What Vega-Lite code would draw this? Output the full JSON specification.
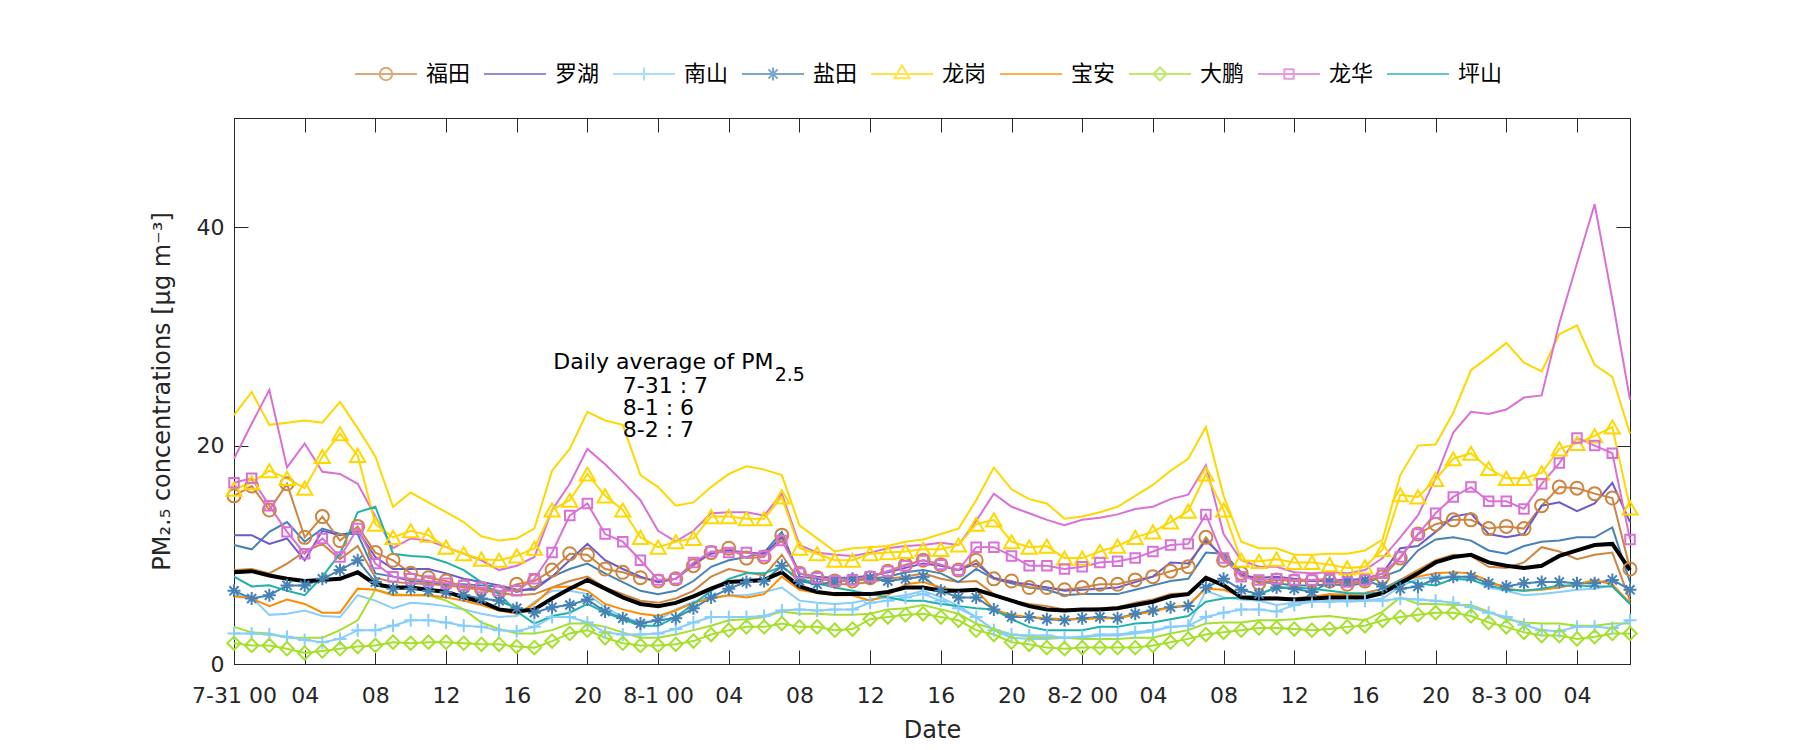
{
"$schema": "https://vega.github.io/schema/vega-lite/v6.json",
"width": 1396, "height": 546,
"autosize": {"type": "none"},
"padding": {"left": 234, "top": 118, "right": 170, "bottom": 86},
"background": "white",
"config": {
  "view": {"stroke": "#262626", "strokeWidth": 1},
  "axis": {"labelFont": "DejaVu Sans", "labelFontSize": 22, "labelColor": "#262626", "titleFont": "DejaVu Sans", "titleFontSize": 24, "titleFontWeight": "normal", "titleColor": "#262626", "domainColor": "#262626", "tickColor": "#262626", "grid": false},
  "legend": {"orient": "none", "legendX": 120, "legendY": -76, "direction": "horizontal", "labelFont": "Noto Sans CJK SC", "labelFontSize": 22, "labelColor": "#000000", "labelOffset": 8, "columnPadding": 9, "symbolSize": 3844, "symbolStrokeWidth": 2, "symbolFillColor": "transparent"}
},
"datasets": {
"pm": [
{"h":0,"福田":15.4,"福田b":8.6,"罗湖":11.8,"南山":2.8,"南山b":6.3,"盐田":6.7,"盐田b":10.9,"龙岗":16.0,"龙岗b":22.8,"宝安":6.2,"大鹏":1.9,"大鹏b":3.4,"龙华":16.6,"龙华b":18.8,"坪山":8.0,"平均":8.4},
{"h":1,"福田":16.3,"福田b":8.7,"罗湖":11.8,"南山":2.8,"南山b":6.1,"盐田":6.0,"盐田b":10.5,"龙岗":16.6,"龙岗b":24.9,"宝安":6.0,"大鹏":1.7,"大鹏b":2.9,"龙华":17.0,"龙华b":22.0,"坪山":7.1,"平均":8.5},
{"h":2,"福田":14.1,"福田b":8.3,"罗湖":11.0,"南山":2.7,"南山b":4.5,"盐田":6.3,"盐田b":12.1,"龙岗":17.7,"龙岗b":21.9,"宝安":5.3,"大鹏":1.7,"大鹏b":2.8,"龙华":14.5,"龙华b":25.1,"坪山":7.2,"平均":8.1},
{"h":3,"福田":16.5,"福田b":9.2,"罗湖":11.5,"南山":2.5,"南山b":4.6,"盐田":7.2,"盐田b":13.0,"龙岗":17.0,"龙岗b":22.1,"宝安":5.9,"大鹏":1.4,"大鹏b":2.4,"龙华":12.1,"龙华b":18.0,"坪山":6.7,"平均":7.8},
{"h":4,"福田":11.6,"福田b":10.3,"罗湖":9.5,"南山":2.2,"南山b":4.9,"盐田":7.2,"盐田b":11.2,"龙岗":16.1,"龙岗b":22.3,"宝安":5.5,"大鹏":1.0,"大鹏b":2.4,"龙华":10.1,"龙华b":20.2,"坪山":6.3,"平均":7.6},
{"h":5,"福田":13.5,"福田b":11.0,"罗湖":12.2,"南山":2.0,"南山b":4.4,"盐田":7.8,"盐田b":12.4,"龙岗":19.0,"龙岗b":22.1,"宝安":4.7,"大鹏":1.2,"大鹏b":2.4,"龙华":11.5,"龙华b":17.6,"坪山":8.0,"平均":7.7},
{"h":6,"福田":11.3,"福田b":9.6,"罗湖":11.8,"南山":2.3,"南山b":4.3,"盐田":8.6,"盐田b":11.9,"龙岗":21.1,"龙岗b":24.0,"宝安":4.7,"大鹏":1.4,"大鹏b":3.1,"龙华":9.8,"龙华b":17.4,"坪山":10.1,"平均":7.8},
{"h":7,"福田":12.6,"福田b":10.8,"罗湖":12.2,"南山":3.1,"南山b":6.3,"盐田":9.5,"盐田b":11.9,"龙岗":19.1,"龙岗b":21.6,"宝安":6.9,"大鹏":1.6,"大鹏b":4.0,"龙华":12.4,"龙华b":16.5,"坪山":13.9,"平均":8.4},
{"h":8,"福田":10.2,"福田b":7.9,"罗湖":9.8,"南山":3.1,"南山b":5.8,"盐田":7.5,"盐田b":8.3,"龙岗":12.8,"龙岗b":19.0,"宝安":6.8,"大鹏":1.7,"大鹏b":6.8,"龙华":9.2,"龙华b":13.5,"坪山":14.4,"平均":7.3},
{"h":9,"福田":9.5,"福田b":7.5,"罗湖":8.7,"南山":3.5,"南山b":5.1,"盐田":6.9,"盐田b":8.0,"龙岗":11.6,"龙岗b":14.4,"宝安":6.3,"大鹏":2.0,"大鹏b":6.4,"龙华":8.0,"龙华b":10.6,"坪山":10.1,"平均":7.0},
{"h":10,"福田":8.3,"福田b":7.4,"罗湖":8.7,"南山":4.0,"南山b":5.6,"盐田":6.9,"盐田b":7.6,"龙岗":12.2,"龙岗b":15.7,"宝安":6.3,"大鹏":1.9,"大鹏b":6.3,"龙华":7.8,"龙华b":11.5,"坪山":9.9,"平均":7.0},
{"h":11,"福田":7.9,"福田b":7.3,"罗湖":8.7,"南山":4.0,"南山b":5.5,"盐田":6.7,"盐田b":7.5,"龙岗":11.8,"龙岗b":14.8,"宝安":6.3,"大鹏":2.0,"大鹏b":6.3,"龙华":7.6,"龙华b":11.3,"坪山":9.8,"平均":6.8},
{"h":12,"福田":7.6,"福田b":7.2,"罗湖":8.3,"南山":3.8,"南山b":5.3,"盐田":6.6,"盐田b":7.3,"龙岗":10.7,"龙岗b":13.9,"宝安":6.1,"大鹏":2.0,"大鹏b":5.8,"龙华":7.4,"龙华b":10.7,"坪山":9.3,"平均":6.6},
{"h":13,"福田":7.1,"福田b":7.0,"罗湖":7.8,"南山":3.5,"南山b":5.0,"盐田":6.3,"盐田b":7.3,"龙岗":10.1,"龙岗b":13.0,"宝安":5.8,"大鹏":1.9,"大鹏b":5.0,"龙华":7.2,"龙华b":10.1,"坪山":8.6,"平均":6.1},
{"h":14,"福田":6.9,"福田b":6.8,"罗湖":7.5,"南山":3.4,"南山b":4.6,"盐田":6.0,"盐田b":7.2,"龙岗":9.6,"龙岗b":11.7,"宝安":5.4,"大鹏":1.8,"大鹏b":3.8,"龙华":7.0,"龙华b":9.5,"坪山":7.5,"平均":5.7},
{"h":15,"福田":6.6,"福田b":6.5,"罗湖":7.2,"南山":3.1,"南山b":4.3,"盐田":5.8,"盐田b":7.1,"龙岗":9.5,"龙岗b":11.3,"宝安":4.9,"大鹏":1.8,"大鹏b":3.2,"龙华":6.7,"龙华b":8.6,"坪山":6.4,"平均":5.0},
{"h":16,"福田":7.3,"福田b":6.3,"罗湖":6.8,"南山":3.0,"南山b":4.4,"盐田":5.1,"盐田b":6.6,"龙岗":9.9,"龙岗b":11.5,"宝安":4.6,"大鹏":1.6,"大鹏b":2.8,"龙华":6.7,"龙华b":9.0,"坪山":4.8,"平均":4.8},
{"h":17,"福田":7.6,"福田b":6.4,"罗湖":6.8,"南山":3.4,"南山b":5.7,"盐田":4.7,"盐田b":7.0,"龙岗":10.6,"龙岗b":12.4,"宝安":5.5,"大鹏":1.5,"大鹏b":2.8,"龙华":7.8,"龙华b":9.8,"坪山":3.7,"平均":5.0},
{"h":18,"福田":8.6,"福田b":7.0,"罗湖":8.0,"南山":4.3,"南山b":6.7,"盐田":5.2,"盐田b":8.0,"龙岗":14.1,"龙岗b":17.7,"宝安":7.0,"大鹏":2.1,"大鹏b":3.1,"龙华":10.2,"龙华b":14.1,"坪山":4.4,"平均":6.0},
{"h":19,"福田":10.1,"福田b":7.6,"罗湖":9.5,"南山":4.3,"南山b":6.7,"盐田":5.4,"盐田b":8.7,"龙岗":15.0,"龙岗b":19.7,"宝安":7.1,"大鹏":2.8,"大鹏b":3.7,"龙华":13.6,"龙华b":16.5,"坪山":4.7,"平均":6.9},
{"h":20,"福田":10.0,"福田b":8.0,"罗湖":11.0,"南山":3.8,"南山b":6.4,"盐田":5.9,"盐田b":9.2,"龙岗":17.4,"龙岗b":23.1,"宝安":6.7,"大鹏":3.1,"大鹏b":3.7,"龙华":14.7,"龙华b":19.7,"坪山":5.5,"平均":7.7},
{"h":21,"福田":8.7,"福田b":7.0,"罗湖":9.5,"南山":2.9,"南山b":5.2,"盐田":4.8,"盐田b":8.3,"龙岗":15.4,"龙岗b":22.3,"宝安":5.5,"大鹏":2.4,"大鹏b":3.4,"龙华":11.9,"龙华b":18.3,"坪山":4.7,"平均":6.9},
{"h":22,"福田":8.4,"福田b":6.4,"罗湖":8.7,"南山":2.7,"南山b":4.3,"盐田":4.2,"盐田b":7.5,"龙岗":14.1,"龙岗b":21.9,"宝安":5.0,"大鹏":1.9,"大鹏b":2.9,"龙华":11.2,"龙华b":16.7,"坪山":4.1,"平均":6.1},
{"h":23,"福田":7.9,"福田b":5.8,"罗湖":8.0,"南山":2.7,"南山b":3.8,"盐田":3.7,"盐田b":6.7,"龙岗":11.6,"龙岗b":17.3,"宝安":4.6,"大鹏":1.7,"大鹏b":2.4,"龙华":9.5,"龙华b":15.0,"坪山":3.5,"平均":5.5},
{"h":24,"福田":7.6,"福田b":5.6,"罗湖":7.5,"南山":2.8,"南山b":4.0,"盐田":4.0,"盐田b":6.4,"龙岗":10.7,"龙岗b":16.2,"宝安":4.4,"大鹏":1.7,"大鹏b":2.4,"龙华":7.7,"龙华b":12.2,"坪山":3.5,"平均":5.3},
{"h":25,"福田":7.8,"福田b":6.0,"罗湖":7.8,"南山":3.2,"南山b":5.0,"盐田":4.2,"盐田b":6.7,"龙岗":11.2,"龙岗b":14.5,"宝安":4.9,"大鹏":1.8,"大鹏b":2.7,"龙华":7.8,"龙华b":11.2,"坪山":4.3,"平均":5.6},
{"h":26,"福田":9.0,"福田b":6.7,"罗湖":9.2,"南山":3.8,"南山b":5.7,"盐田":5.1,"盐田b":7.6,"龙岗":11.5,"龙岗b":14.8,"宝安":5.6,"大鹏":2.1,"大鹏b":3.1,"龙华":9.3,"龙华b":12.2,"坪山":5.5,"平均":6.2},
{"h":27,"福田":10.2,"福田b":8.0,"罗湖":10.1,"南山":4.3,"南山b":6.1,"盐田":6.1,"盐田b":8.9,"龙岗":13.5,"龙岗b":16.2,"宝安":6.0,"大鹏":2.7,"大鹏b":3.5,"龙华":10.3,"龙华b":13.8,"坪山":6.7,"平均":6.9},
{"h":28,"福田":10.6,"福田b":8.7,"罗湖":10.4,"南山":4.3,"南山b":6.3,"盐田":6.9,"盐田b":9.5,"龙岗":13.5,"龙岗b":17.4,"宝安":6.3,"大鹏":3.1,"大鹏b":4.0,"龙华":10.2,"龙华b":13.9,"坪山":7.8,"平均":7.5},
{"h":29,"福田":9.7,"福田b":8.4,"罗湖":10.2,"南山":4.3,"南山b":6.3,"盐田":7.5,"盐田b":9.8,"龙岗":13.3,"龙岗b":18.1,"宝安":6.1,"大鹏":3.4,"大鹏b":4.1,"龙华":10.2,"龙华b":13.9,"坪山":8.3,"平均":7.6},
{"h":30,"福田":9.8,"福田b":8.1,"罗湖":10.1,"南山":4.4,"南山b":6.6,"盐田":7.6,"盐田b":10.2,"龙岗":13.3,"龙岗b":17.8,"宝安":6.4,"大鹏":3.4,"大鹏b":4.3,"龙华":9.9,"龙华b":13.6,"坪山":8.3,"平均":7.7},
{"h":31,"福田":11.8,"福田b":10.0,"罗湖":11.6,"南山":4.9,"南山b":7.0,"盐田":9.0,"盐田b":12.1,"龙岗":15.3,"龙岗b":17.3,"宝安":8.0,"大鹏":3.7,"大鹏b":4.8,"龙华":11.3,"龙华b":15.6,"坪山":8.9,"平均":8.4},
{"h":32,"福田":8.3,"福田b":7.6,"罗湖":8.3,"南山":5.0,"南山b":5.8,"盐田":7.6,"盐田b":8.0,"龙岗":10.6,"龙岗b":12.7,"宝安":6.8,"大鹏":3.4,"大鹏b":4.6,"龙华":8.3,"龙华b":10.9,"坪山":7.8,"平均":7.1},
{"h":33,"福田":7.9,"福田b":7.4,"罗湖":8.0,"南山":4.9,"南山b":5.6,"盐田":7.3,"盐田b":7.8,"龙岗":10.1,"龙岗b":11.5,"宝安":6.5,"大鹏":3.4,"大鹏b":4.6,"龙华":7.9,"龙华b":10.2,"坪山":7.4,"平均":6.6},
{"h":34,"福田":7.6,"福田b":7.3,"罗湖":7.9,"南山":5.0,"南山b":5.5,"盐田":7.5,"盐田b":7.6,"龙岗":9.5,"龙岗b":10.3,"宝安":6.3,"大鹏":3.1,"大鹏b":4.5,"龙华":7.6,"龙华b":10.0,"坪山":7.0,"平均":6.4},
{"h":35,"福田":7.6,"福田b":7.3,"罗湖":7.9,"南山":5.0,"南山b":5.6,"盐田":7.8,"盐田b":7.6,"龙岗":9.5,"龙岗b":10.6,"宝安":6.3,"大鹏":3.2,"大鹏b":4.5,"龙华":7.7,"龙华b":9.9,"坪山":6.7,"平均":6.4},
{"h":36,"福田":7.9,"福田b":7.5,"罗湖":8.1,"南山":5.6,"南山b":5.9,"盐田":7.9,"盐田b":7.8,"龙岗":10.1,"龙岗b":10.7,"宝安":5.8,"大鹏":4.1,"大鹏b":4.6,"龙华":8.0,"龙华b":10.2,"坪山":6.4,"平均":6.4},
{"h":37,"福田":8.5,"福田b":7.8,"罗湖":8.4,"南山":5.8,"南山b":6.1,"盐田":7.6,"盐田b":8.0,"龙岗":10.2,"龙岗b":10.8,"宝安":6.3,"大鹏":4.3,"大鹏b":5.0,"龙华":8.5,"龙华b":10.6,"坪山":6.1,"平均":6.6},
{"h":38,"福田":9.1,"福田b":8.0,"罗湖":8.8,"南山":6.1,"南山b":6.3,"盐田":7.8,"盐田b":8.4,"龙岗":10.3,"龙岗b":11.2,"宝安":7.3,"大鹏":4.5,"大鹏b":5.1,"龙华":9.0,"龙华b":10.8,"坪山":5.8,"平均":7.0},
{"h":39,"福田":9.5,"福田b":8.3,"罗湖":9.2,"南山":6.4,"南山b":6.7,"盐田":8.0,"盐田b":8.6,"龙岗":10.5,"龙岗b":11.4,"宝安":7.5,"大鹏":4.6,"大鹏b":5.4,"龙华":9.5,"龙华b":10.9,"坪山":5.8,"平均":7.0},
{"h":40,"福田":9.1,"福田b":7.8,"罗湖":9.0,"南山":5.8,"南山b":6.1,"盐田":6.7,"盐田b":8.3,"龙岗":10.5,"龙岗b":11.9,"宝安":7.0,"大鹏":4.3,"大鹏b":5.0,"龙华":9.1,"龙华b":11.1,"坪山":5.5,"平均":6.7},
{"h":41,"福田":8.6,"福田b":7.5,"罗湖":8.6,"南山":5.1,"南山b":5.3,"盐田":6.1,"盐田b":7.5,"龙岗":10.9,"龙岗b":12.4,"宝安":6.7,"大鹏":4.0,"大鹏b":4.6,"龙华":8.6,"龙华b":10.9,"坪山":5.3,"平均":6.7},
{"h":42,"福田":9.5,"福田b":7.6,"罗湖":9.2,"南山":4.3,"南山b":4.3,"盐田":6.1,"盐田b":8.7,"龙岗":12.8,"龙岗b":15.0,"宝安":6.8,"大鹏":3.1,"大鹏b":3.7,"龙华":10.7,"龙华b":13.1,"坪山":5.1,"平均":6.8},
{"h":43,"福田":7.8,"福田b":6.4,"罗湖":7.9,"南山":3.1,"南山b":3.1,"盐田":5.0,"盐田b":7.8,"龙岗":13.2,"龙岗b":18.0,"宝安":5.0,"大鹏":2.7,"大鹏b":3.2,"龙华":10.7,"龙华b":15.6,"坪山":5.0,"平均":6.3},
{"h":44,"福田":7.6,"福田b":5.8,"罗湖":7.5,"南山":2.7,"南山b":2.4,"盐田":4.3,"盐田b":7.4,"龙岗":11.2,"龙岗b":16.0,"宝安":4.5,"大鹏":2.0,"大鹏b":2.7,"龙华":9.9,"龙华b":14.4,"坪山":4.1,"平均":5.8},
{"h":45,"福田":7.0,"福田b":5.5,"罗湖":7.3,"南山":2.6,"南山b":2.3,"盐田":4.3,"盐田b":7.0,"龙岗":10.7,"龙岗b":15.1,"宝安":4.3,"大鹏":1.8,"大鹏b":2.5,"龙华":9.0,"龙华b":13.8,"坪山":3.4,"平均":5.3},
{"h":46,"福田":7.0,"福田b":5.3,"罗湖":7.0,"南山":2.6,"南山b":2.3,"盐田":4.1,"盐田b":6.8,"龙岗":10.8,"龙岗b":14.7,"宝安":4.2,"大鹏":1.5,"大鹏b":2.4,"龙华":9.0,"龙华b":13.2,"坪山":3.1,"平均":5.0},
{"h":47,"福田":6.8,"福田b":5.0,"罗湖":6.7,"南山":2.4,"南山b":2.4,"盐田":4.0,"盐田b":6.3,"龙岗":9.7,"龙岗b":13.3,"宝安":4.1,"大鹏":1.4,"大鹏b":2.4,"龙华":8.7,"龙华b":12.7,"坪山":3.1,"平均":4.9},
{"h":48,"福田":7.0,"福田b":5.0,"罗湖":6.8,"南山":2.5,"南山b":2.4,"盐田":4.2,"盐田b":6.4,"龙岗":9.7,"龙岗b":13.5,"宝安":4.1,"大鹏":1.5,"大鹏b":2.3,"龙华":8.9,"龙华b":13.2,"坪山":3.1,"平均":5.0},
{"h":49,"福田":7.3,"福田b":5.1,"罗湖":6.9,"南山":2.7,"南山b":2.6,"盐田":4.3,"盐田b":6.4,"龙岗":10.3,"龙岗b":13.9,"宝安":4.2,"大鹏":1.5,"大鹏b":2.3,"龙华":9.3,"龙华b":13.4,"坪山":3.4,"平均":5.0},
{"h":50,"福田":7.3,"福田b":5.2,"罗湖":7.0,"南山":2.7,"南山b":2.6,"盐田":4.2,"盐田b":6.4,"龙岗":10.8,"龙岗b":14.4,"宝安":4.2,"大鹏":1.5,"大鹏b":2.3,"龙华":9.4,"龙华b":13.7,"坪山":3.4,"平均":5.1},
{"h":51,"福田":7.7,"福田b":5.6,"罗湖":7.5,"南山":2.9,"南山b":2.8,"盐田":4.6,"盐田b":6.8,"龙岗":11.6,"龙岗b":15.4,"宝安":4.5,"大鹏":1.5,"大鹏b":2.4,"龙华":9.7,"龙华b":14.2,"坪山":3.7,"平均":5.4},
{"h":52,"福田":8.0,"福田b":5.9,"罗湖":8.0,"南山":3.1,"南山b":3.0,"盐田":4.9,"盐田b":7.2,"龙岗":12.1,"龙岗b":16.4,"宝安":4.8,"大鹏":1.7,"大鹏b":2.4,"龙华":10.3,"龙华b":14.4,"坪山":3.8,"平均":5.7},
{"h":53,"福田":8.5,"福田b":6.4,"罗湖":9.3,"南山":3.4,"南山b":3.4,"盐田":5.2,"盐田b":7.6,"龙岗":13.0,"龙岗b":17.7,"宝安":5.2,"大鹏":2.0,"大鹏b":2.8,"龙华":10.9,"龙华b":15.1,"坪山":4.1,"平均":6.2},
{"h":54,"福田":8.9,"福田b":6.5,"罗湖":9.2,"南山":3.5,"南山b":3.5,"盐田":5.3,"盐田b":7.8,"龙岗":14.0,"龙岗b":18.8,"宝安":5.4,"大鹏":2.3,"大鹏b":3.1,"龙华":11.0,"龙华b":15.5,"坪山":4.4,"平均":6.4},
{"h":55,"福田":11.6,"福田b":8.0,"罗湖":11.3,"南山":4.3,"南山b":6.7,"盐田":7.0,"盐田b":10.2,"龙岗":17.4,"龙岗b":21.7,"宝安":6.9,"大鹏":2.7,"大鹏b":3.7,"龙华":13.7,"龙华b":18.2,"坪山":5.7,"平均":7.9},
{"h":56,"福田":9.5,"福田b":7.2,"罗湖":9.8,"南山":4.7,"南山b":6.1,"盐田":7.8,"盐田b":10.1,"龙岗":14.1,"龙岗b":15.4,"宝安":6.8,"大鹏":2.9,"大鹏b":3.8,"龙华":9.7,"龙华b":11.9,"坪山":6.0,"平均":7.2},
{"h":57,"福田":8.3,"福田b":6.2,"罗湖":8.1,"南山":5.0,"南山b":5.9,"盐田":6.8,"盐田b":8.4,"龙岗":9.5,"龙岗b":11.2,"宝安":6.2,"大鹏":3.1,"大鹏b":3.8,"龙华":8.0,"龙华b":9.5,"坪山":6.1,"平均":6.1},
{"h":58,"福田":7.4,"福田b":6.1,"罗湖":7.9,"南山":5.0,"南山b":5.8,"盐田":6.4,"盐田b":7.5,"龙岗":9.4,"龙岗b":10.6,"宝安":6.0,"大鹏":3.3,"大鹏b":4.0,"龙华":7.7,"龙华b":8.9,"坪山":6.4,"平均":6.0},
{"h":59,"福田":7.7,"福田b":6.1,"罗湖":8.0,"南山":4.8,"南山b":5.4,"盐田":7.0,"盐田b":7.4,"龙岗":9.6,"龙岗b":10.6,"宝安":6.0,"大鹏":3.3,"大鹏b":4.0,"龙华":7.8,"龙华b":8.9,"坪山":7.0,"平均":6.0},
{"h":60,"福田":7.6,"福田b":6.0,"罗湖":7.8,"南山":5.4,"南山b":5.6,"盐田":6.9,"盐田b":7.2,"龙岗":9.3,"龙岗b":10.0,"宝安":5.9,"大鹏":3.2,"大鹏b":4.1,"龙华":7.7,"龙华b":8.4,"坪山":7.0,"平均":5.9},
{"h":61,"福田":7.6,"福田b":6.2,"罗湖":7.6,"南山":5.7,"南山b":5.8,"盐田":6.6,"盐田b":7.2,"龙岗":9.3,"龙岗b":10.0,"宝安":6.1,"大鹏":3.1,"大鹏b":4.3,"龙华":7.7,"龙华b":8.3,"坪山":6.9,"平均":6.0},
{"h":62,"福田":7.6,"福田b":6.3,"罗湖":7.7,"南山":5.7,"南山b":5.8,"盐田":7.5,"盐田b":7.3,"龙岗":9.1,"龙岗b":10.1,"宝安":6.4,"大鹏":3.2,"大鹏b":4.4,"龙华":7.8,"龙华b":8.4,"坪山":6.7,"平均":6.1},
{"h":63,"福田":7.3,"福田b":6.4,"罗湖":7.7,"南山":5.8,"南山b":5.7,"盐田":7.7,"盐田b":7.2,"龙岗":8.8,"龙岗b":10.1,"宝安":6.3,"大鹏":3.4,"大鹏b":4.2,"龙华":7.5,"龙华b":8.3,"坪山":6.5,"平均":6.1},
{"h":64,"福田":7.6,"福田b":6.5,"罗湖":7.8,"南山":5.8,"南山b":5.8,"盐田":7.7,"盐田b":7.4,"龙岗":8.9,"龙岗b":10.4,"宝安":6.2,"大鹏":3.5,"大鹏b":4.0,"龙华":7.7,"龙华b":8.6,"坪山":6.4,"平均":6.1},
{"h":65,"福田":8.0,"福田b":6.9,"罗湖":8.3,"南山":5.8,"南山b":6.0,"盐田":7.1,"盐田b":8.0,"龙岗":10.5,"龙岗b":11.4,"宝安":6.5,"大鹏":4.0,"大鹏b":4.8,"龙华":8.3,"龙华b":9.7,"坪山":6.6,"平均":6.5},
{"h":66,"福田":9.7,"福田b":7.7,"罗湖":10.6,"南山":6.0,"南山b":7.1,"盐田":6.9,"盐田b":8.6,"龙岗":15.5,"龙岗b":17.3,"宝安":7.5,"大鹏":4.3,"大鹏b":6.1,"龙华":9.8,"龙华b":11.6,"坪山":7.7,"平均":7.4},
{"h":67,"福田":11.9,"福田b":8.6,"罗湖":10.8,"南山":5.9,"南山b":7.8,"盐田":7.1,"盐田b":10.4,"龙岗":15.3,"龙岗b":20.0,"宝安":8.0,"大鹏":4.5,"大鹏b":5.5,"龙华":11.9,"龙华b":13.6,"坪山":7.4,"平均":8.3},
{"h":68,"福田":12.8,"福田b":9.5,"罗湖":12.1,"南山":5.8,"南山b":8.0,"盐田":7.8,"盐田b":11.4,"龙岗":16.9,"龙岗b":20.1,"宝安":8.3,"大鹏":4.7,"大鹏b":5.5,"龙华":13.8,"龙华b":17.0,"坪山":7.2,"平均":9.3},
{"h":69,"福田":13.2,"福田b":10.0,"罗湖":13.5,"南山":5.6,"南山b":8.0,"盐田":8.0,"盐田b":11.6,"龙岗":18.8,"龙岗b":23.0,"宝安":8.4,"大鹏":4.7,"大鹏b":5.4,"龙华":15.3,"龙华b":21.2,"坪山":7.8,"平均":9.8},
{"h":70,"福田":13.2,"福田b":9.9,"罗湖":13.8,"南山":5.2,"南山b":7.8,"盐田":8.0,"盐田b":11.3,"龙岗":19.3,"龙岗b":26.9,"宝安":8.3,"大鹏":4.4,"大鹏b":5.4,"龙华":16.2,"龙华b":23.1,"坪山":7.7,"平均":10.0},
{"h":71,"福田":12.4,"福田b":8.9,"罗湖":11.9,"南山":4.7,"南山b":7.0,"盐田":7.4,"盐田b":10.4,"龙岗":17.9,"龙岗b":28.1,"宝安":7.6,"大鹏":3.8,"大鹏b":4.8,"龙华":14.9,"龙华b":22.9,"坪山":7.2,"平均":9.3},
{"h":72,"福田":12.6,"福田b":8.8,"罗湖":11.6,"南山":4.3,"南山b":6.7,"盐田":7.1,"盐田b":10.1,"龙岗":17.0,"龙岗b":29.4,"宝安":6.9,"大鹏":3.4,"大鹏b":4.1,"龙华":14.9,"龙华b":23.3,"坪山":6.8,"平均":9.0},
{"h":73,"福田":12.4,"福田b":9.3,"罗湖":11.9,"南山":3.6,"南山b":6.3,"盐田":7.4,"盐田b":10.8,"龙岗":17.0,"龙岗b":27.6,"宝安":6.7,"大鹏":2.9,"大鹏b":3.8,"龙华":14.2,"龙华b":24.4,"坪山":6.7,"平均":8.8},
{"h":74,"福田":14.5,"福田b":10.7,"罗湖":14.5,"南山":3.1,"南山b":6.4,"盐田":7.5,"盐田b":11.2,"龙岗":17.5,"龙岗b":26.8,"宝安":6.8,"大鹏":2.6,"大鹏b":3.7,"龙华":16.5,"龙华b":24.6,"坪山":6.9,"平均":9.0},
{"h":75,"福田":16.2,"福田b":10.3,"罗湖":14.8,"南山":3.0,"南山b":6.6,"盐田":7.5,"盐田b":11.3,"龙岗":19.7,"龙岗b":30.2,"宝安":7.0,"大鹏":2.6,"大鹏b":3.7,"龙华":18.4,"龙华b":31.2,"坪山":7.2,"平均":9.9},
{"h":76,"福田":16.1,"福田b":9.6,"罗湖":14.0,"南山":3.4,"南山b":6.8,"盐田":7.4,"盐田b":11.6,"龙岗":20.2,"龙岗b":31.0,"宝安":7.3,"大鹏":2.3,"大鹏b":3.5,"龙华":20.7,"龙华b":36.7,"坪山":7.2,"平均":10.4},
{"h":77,"福田":15.6,"福田b":10.0,"罗湖":14.7,"南山":3.4,"南山b":6.9,"盐田":7.4,"盐田b":11.6,"龙岗":20.9,"龙岗b":27.4,"宝安":7.7,"大鹏":2.5,"大鹏b":3.5,"龙华":20.0,"龙华b":42.1,"坪山":7.1,"平均":10.9},
{"h":78,"福田":15.2,"福田b":10.2,"罗湖":16.6,"南山":3.3,"南山b":7.2,"盐田":7.7,"盐田b":12.5,"龙岗":21.7,"龙岗b":26.3,"宝安":7.3,"大鹏":2.8,"大鹏b":3.7,"龙华":19.3,"龙华b":33.4,"坪山":7.1,"平均":11.0},
{"h":79,"福田":8.7,"福田b":5.8,"罗湖":13.0,"南山":4.0,"南山b":5.5,"盐田":6.8,"盐田b":7.5,"龙岗":14.3,"龙岗b":21.1,"宝安":5.6,"大鹏":2.8,"大鹏b":3.7,"龙华":11.4,"龙华b":24.2,"坪山":5.5,"平均":8.6}
],
"notes": [
{"t":"Daily average of PM","h":18.07,"v":27.67,"sz":"big"},
{"t":"2.5","h":30.6,"v":26.5,"sz":"small"},
{"t":"7-31 : 7","h":22.0,"v":25.47,"sz":"big"},
{"t":"8-1 : 6","h":22.0,"v":23.45,"sz":"big"},
{"t":"8-2 : 7","h":22.0,"v":21.43,"sz":"big"}
]
},
"resolve": {"axis": {"x": "independent", "y": "independent"}},
"layer": [
{
  "data": {"name": "pm"},
  "transform": [{"fold": ["福田","罗湖","南山","盐田","龙岗","宝安","大鹏","龙华","坪山"], "as": ["s","v"]}, {"filter": "datum.h < 0"}],
  "mark": {"type": "point", "filled": false, "strokeWidth": 2},
  "encoding": {
    "x": {"field": "h", "type": "quantitative", "axis": null},
    "y": {"field": "v", "type": "quantitative", "axis": null},
    "color": {"field": "s", "type": "nominal",
      "scale": {"domain": ["福田","罗湖","南山","盐田","龙岗","宝安","大鹏","龙华","坪山"], "range": ["#CD853F","#6A5ACD","#87CEFA","#4682B4","#FFD700","#FF8C00","#A4E02C","#DA70D6","#20B2AA"]},
      "legend": {"title": null}},
    "shape": {"field": "s", "type": "nominal",
      "scale": {"domain": ["福田","罗湖","南山","盐田","龙岗","宝安","大鹏","龙华","坪山"],
        "range": ["M-1,0H1M0.2,0A0.2,0.2 0 1,1 -0.2,0A0.2,0.2 0 1,1 0.2,0", "M-1,0H1", "M-1,0H1M0,-0.21V0.21", "M-1,0H1M0,-0.21V0.21M-0.15,-0.15L0.15,0.15M-0.15,0.15L0.15,-0.15", "M-1,0H1M0,-0.28L-0.24,0.14L0.24,0.14Z", "M-1,0H1", "M-1,0H1M-0.21,0L0,-0.21L0.21,0L0,0.21Z", "M-1,0H1M-0.15,-0.15H0.15V0.15H-0.15Z", "M-1,0H1"]},
      "legend": {"title": null}}
  }
},
{
  "data": {"name": "pm"},
  "transform": [{"fold": ["龙岗b","龙华b","福田b","盐田b","南山b","大鹏b"], "as": ["s","v"]}],
  "mark": {"type": "line", "strokeWidth": 2},
  "encoding": {
    "x": {"field": "h", "type": "quantitative", "scale": {"domain": [0, 79], "nice": false, "zero": false},
      "axis": {"orient": "bottom", "title": "Date", "values": [0,4,8,12,16,20,24,28,32,36,40,44,48,52,56,60,64,68,72,76], "tickSize": -14, "labelPadding": 35, "titlePadding": 12, "labelFlush": false,
        "labelExpr": "datum.value % 24 == 0 ? (datum.value == 0 ? '7-31 00' : datum.value == 24 ? '8-1 00' : datum.value == 48 ? '8-2 00' : '8-3 00') : (datum.value % 24 < 10 ? '0' + (datum.value % 24) : '' + (datum.value % 24))"}},
    "y": {"field": "v", "type": "quantitative", "scale": {"domain": [0, 50], "nice": false},
      "axis": {"orient": "left", "title": "PM₂.₅ concentrations [μg m⁻³]", "values": [0, 20, 40], "tickSize": -14, "labelPadding": 24, "titlePadding": 22}},
    "stroke": {"field": "s", "type": "nominal",
      "scale": {"domain": ["福田b","南山b","盐田b","龙岗b","大鹏b","龙华b"], "range": ["#CD853F","#87CEFA","#4682B4","#FFD700","#A4E02C","#DA70D6"]},
      "legend": null}
  }
},
{
  "data": {"name": "pm"},
  "transform": [{"fold": ["福田","罗湖","南山","盐田","龙岗","宝安","大鹏","龙华","坪山"], "as": ["s","v"]}],
  "mark": {"type": "line", "strokeWidth": 2},
  "encoding": {
    "x": {"field": "h", "type": "quantitative", "axis": null},
    "y": {"field": "v", "type": "quantitative", "axis": null},
    "color": {"field": "s", "type": "nominal", "legend": {"title": null}}
  }
},
{
  "data": {"name": "pm"},
  "transform": [{"fold": ["平均"], "as": ["s","v"]}],
  "mark": {"type": "line", "strokeWidth": 4, "color": "#000000"},
  "encoding": {
    "x": {"field": "h", "type": "quantitative", "axis": null},
    "y": {"field": "v", "type": "quantitative", "axis": null}
  }
},
{
  "data": {"name": "pm"},
  "transform": [{"fold": ["福田"], "as": ["s","v"]}],
  "mark": {"type": "point", "shape": "circle", "filled": false, "size": 169, "strokeWidth": 2, "color": "#CD853F", "opacity": 1},
  "encoding": {"x": {"field": "h", "type": "quantitative", "axis": null}, "y": {"field": "v", "type": "quantitative", "axis": null}}
},
{
  "data": {"name": "pm"},
  "transform": [{"fold": ["南山"], "as": ["s","v"]}],
  "mark": {"type": "point", "shape": "M-1,0H1M0,-1V1", "filled": false, "size": 169, "strokeWidth": 2, "color": "#87CEFA", "opacity": 1},
  "encoding": {"x": {"field": "h", "type": "quantitative", "axis": null}, "y": {"field": "v", "type": "quantitative", "axis": null}}
},
{
  "data": {"name": "pm"},
  "transform": [{"fold": ["盐田"], "as": ["s","v"]}],
  "mark": {"type": "point", "shape": "M-1,0H1M0,-1V1M-0.7,-0.7L0.7,0.7M-0.7,0.7L0.7,-0.7", "filled": false, "size": 169, "strokeWidth": 2, "color": "#4682B4", "opacity": 1},
  "encoding": {"x": {"field": "h", "type": "quantitative", "axis": null}, "y": {"field": "v", "type": "quantitative", "axis": null}}
},
{
  "data": {"name": "pm"},
  "transform": [{"fold": ["龙岗"], "as": ["s","v"]}],
  "mark": {"type": "point", "shape": "triangle-up", "filled": false, "size": 230, "strokeWidth": 2, "color": "#FFD700", "opacity": 1},
  "encoding": {"x": {"field": "h", "type": "quantitative", "axis": null}, "y": {"field": "v", "type": "quantitative", "axis": null}}
},
{
  "data": {"name": "pm"},
  "transform": [{"fold": ["大鹏"], "as": ["s","v"]}],
  "mark": {"type": "point", "shape": "diamond", "filled": false, "size": 180, "strokeWidth": 2, "color": "#A4E02C", "opacity": 1},
  "encoding": {"x": {"field": "h", "type": "quantitative", "axis": null}, "y": {"field": "v", "type": "quantitative", "axis": null}}
},
{
  "data": {"name": "pm"},
  "transform": [{"fold": ["龙华"], "as": ["s","v"]}],
  "mark": {"type": "point", "shape": "square", "filled": false, "size": 90, "strokeWidth": 2, "color": "#DA70D6", "opacity": 1},
  "encoding": {"x": {"field": "h", "type": "quantitative", "axis": null}, "y": {"field": "v", "type": "quantitative", "axis": null}}
},
{
  "data": {"name": "notes"},
  "mark": {"type": "text", "align": "left", "baseline": "middle", "font": "DejaVu Sans", "color": "#000000"},
  "encoding": {
    "x": {"field": "h", "type": "quantitative", "axis": null},
    "y": {"field": "v", "type": "quantitative", "axis": null},
    "text": {"field": "t"},
    "size": {"field": "sz", "type": "nominal", "scale": {"domain": ["big","small"], "range": [22, 19]}, "legend": null}
  }
},
{
  "data": {"name": "pm"},
  "mark": {"type": "line", "opacity": 0},
  "encoding": {
    "x": {"field": "h", "type": "quantitative", "axis": {"orient": "top", "title": null, "labels": false, "values": [0,4,8,12,16,20,24,28,32,36,40,44,48,52,56,60,64,68,72,76], "tickSize": -14}},
    "y": {"field": "平均", "type": "quantitative", "axis": {"orient": "right", "title": null, "labels": false, "values": [0, 20, 40], "tickSize": -14}}
  }
}
]
}
